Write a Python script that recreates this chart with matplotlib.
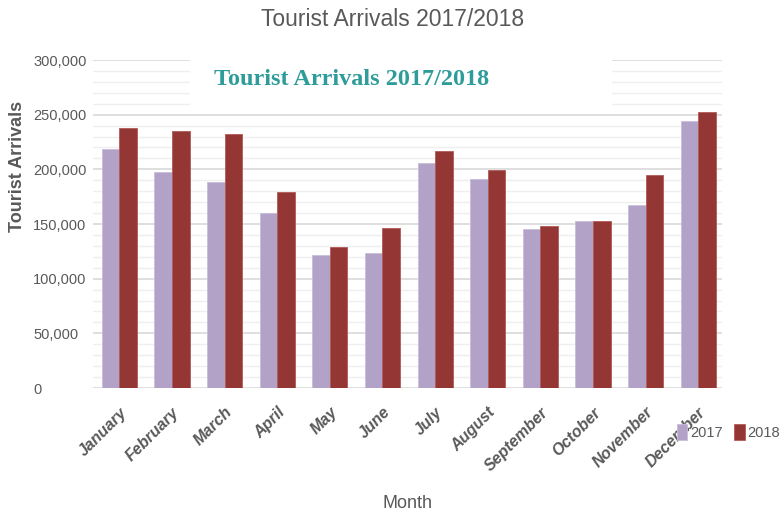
import matplotlib
matplotlib.use("Agg")
import matplotlib.pyplot as plt
import numpy as np
from matplotlib.patches import Rectangle
from matplotlib.ticker import MultipleLocator, FuncFormatter

months = ["January", "February", "March", "April", "May", "June", "July",
          "August", "September", "October", "November", "December"]
arrivals_2017 = [219000, 198000, 188500, 160500, 122000, 123500, 205500,
                 191000, 145000, 152700, 167000, 244000]
arrivals_2018 = [238000, 235000, 232700, 179700, 129000, 146400, 217000,
                 199400, 148000, 152700, 194500, 252000]
series_labels = ["2017", "2018"]

PURPLE = "#B3A2C7"
RED = "#943634"
GREY_TXT = "#595959"
NARROW = ["Liberation Sans Narrow", "Liberation Sans", "DejaVu Sans"]

W, H = 780, 515
fig = plt.figure(figsize=(W / 100, H / 100), dpi=100)
ax = fig.add_axes([93 / W, 1 - 388 / H, (722 - 93) / W, (388 - 60) / H])

x = np.arange(len(months))
bw = 0.335
ax.bar(x - bw / 2, arrivals_2017, bw, color=PURPLE, edgecolor="#C9BCD9",
       linewidth=0.6, label=series_labels[0], zorder=3)
ax.bar(x + bw / 2, arrivals_2018, bw, color=RED, edgecolor="#B05A58",
       linewidth=0.6, label=series_labels[1], zorder=3)

ax.yaxis.set_major_locator(MultipleLocator(50000))
ax.yaxis.set_minor_locator(MultipleLocator(10000))
ax.yaxis.set_major_formatter(FuncFormatter(lambda v, p: f"{int(v):,}"))
ax.set_xlim(-0.5, 11.45)
ax.set_ylim(0, 300000)
ax.grid(axis="y", which="major", color="#D9D9D9", linewidth=1.2, zorder=0)
ax.grid(axis="y", which="minor", color="#EFEFEF", linewidth=1.0, zorder=0)
ax.set_axisbelow(True)
for s in ax.spines.values():
    s.set_visible(False)

ax.tick_params(axis="both", which="both", length=0)
# left-aligned value labels starting ~60 px left of the plot area
ax.tick_params(axis="y", pad=43)
for lab in ax.get_yticklabels():
    lab.set_fontfamily(NARROW)
    lab.set_fontsize(10.5)
    lab.set_color(GREY_TXT)
    lab.set_horizontalalignment("left")

ax.set_xticks(x)
ax.set_xticklabels(months, rotation=45, ha="right", rotation_mode="anchor",
                   fontstyle="italic", fontweight="bold", fontsize=11.5,
                   color=GREY_TXT, family=NARROW)
ax.tick_params(axis="x", pad=12)

# white panel behind the subtitle, hiding the upper gridlines
fig.patches.append(Rectangle((190 / W, 1 - 113 / H), (612 - 190) / W, (113 - 55) / H,
                             transform=fig.transFigure, facecolor="white",
                             edgecolor="none", zorder=5))
fig.text(352 / W, 1 - 80 / H, "Tourist Arrivals 2017/2018", ha="center", va="center",
         fontsize=17.5, fontweight="bold", color="#2E9C9A",
         family=["Liberation Serif", "DejaVu Serif"], zorder=6)

fig.text(393 / W, 1 - 20 / H, "Tourist Arrivals 2017/2018", ha="center", va="center",
         fontsize=16.5, color=GREY_TXT, family=NARROW)
fig.text(18 / W, 1 - 166 / H, "Tourist Arrivals", ha="center", va="center",
         rotation=90, fontsize=13, fontweight="bold", color=GREY_TXT,
         family=["Liberation Sans", "DejaVu Sans"])
fig.text(408 / W, 1 - 503 / H, "Month", ha="center", va="center",
         fontsize=13, color=GREY_TXT, family=NARROW)

leg = fig.legend(loc="center left", bbox_to_anchor=(677 / W, 1 - 432 / H),
                 ncol=2, frameon=False, handlelength=0.7, handleheight=1.3,
                 handletextpad=0.2, columnspacing=0.8, borderpad=0,
                 borderaxespad=0, prop={"family": NARROW, "size": 10.5})
for t in leg.get_texts():
    t.set_color(GREY_TXT)

fig.savefig("out.png", dpi=100)
